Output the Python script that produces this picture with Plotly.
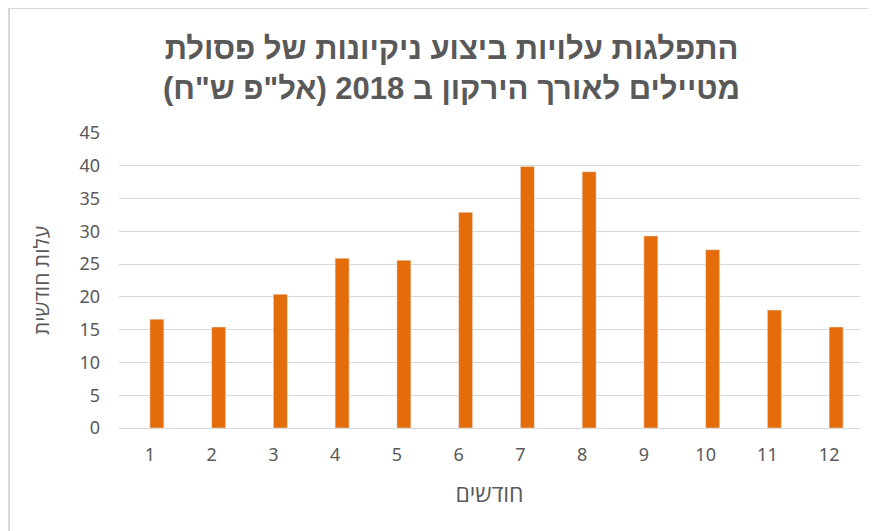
import plotly.graph_objects as go

# נתונים: עלות חודשית (אלפי ש"ח) לפי חודש
months = [1, 2, 3, 4, 5, 6, 7, 8, 9, 10, 11, 12]
month_labels = ["1", "2", "3", "4", "5", "6", "7", "8", "9", "10", "11", "12"]
costs = [16.6, 15.4, 20.4, 25.9, 25.6, 32.9, 39.9, 39.1, 29.3, 27.2, 18.0, 15.4]
y_ticks = [0, 5, 10, 15, 20, 25, 30, 35, 40, 45]

RLM = "\u200f"
title_lines = ["התפלגות עלויות ביצוע ניקיונות של פסולת",
               "מטיילים לאורך הירקון ב 2018 (אל\"פ ש\"ח)"]
title_text = "<br>".join(RLM + t + RLM for t in title_lines)

# גודל הדף: הגוף של ה-HTML מוסיף שוליים של 8px
W, H = 868, 523
L, R, T, B = 111, 16, 125, 103
pw, ph = W - L - R, H - T - B

fig = go.Figure()

fig.add_trace(
    go.Bar(
        x=months,
        y=costs,
        width=0.227,
        offset=0,
        marker=dict(color="#E46C0A"),
        showlegend=False
    )
)

grey = "#595959"

fig.update_layout(
    width=W,
    height=H,
    paper_bgcolor="white",
    plot_bgcolor="white",
    margin=dict(l=L, r=R, t=T, b=B, autoexpand=False),
    title=dict(
        text="<b>" + title_text + "</b>",
        x=0.511, xanchor="center",
        y=1 - 51 / H, yanchor="middle",
        font=dict(family="Liberation Sans, Arial", size=31, color=grey)
    ),
    xaxis=dict(
        tickmode="array",
        tickvals=months,
        ticktext=month_labels,
        range=[0.5, 12.5],
        showgrid=False,
        zeroline=False,
        showline=False,
        ticks="",
        ticklabelstandoff=14,
        tickfont=dict(family="Noto Sans, Open Sans", size=18, color=grey),
        title=dict(text="חודשים", standoff=20,
                   font=dict(family="Noto Sans, Open Sans", size=23, color=grey))
    ),
    yaxis=dict(
        range=[0, 45],
        tickmode="array",
        tickvals=y_ticks,
        showgrid=True,
        gridcolor="#D9D9D9",
        gridwidth=1,
        zeroline=True,
        zerolinecolor="#D9D9D9",
        zerolinewidth=1,
        ticks="",
        ticklabelstandoff=18,
        tickfont=dict(family="Noto Sans, Open Sans", size=18, color=grey),
        title=dict(text="עלות חודשית", standoff=24,
                   font=dict(family="Noto Sans, Open Sans", size=21, color=grey))
    ),
    shapes=[
        # מסגרת התרשים (עליון ושמאל, כמו בתמונה)
        dict(type="line", xref="paper", yref="paper",
             x0=(1 - L) / pw, x1=(W - L) / pw,
             y0=(T + ph) / ph, y1=(T + ph) / ph,
             line=dict(color="#D9D9D9", width=2)),
        dict(type="line", xref="paper", yref="paper",
             x0=(1 - L) / pw, x1=(1 - L) / pw,
             y0=(T + ph) / ph, y1=-B / ph,
             line=dict(color="#D9D9D9", width=2)),
    ]
)

fig.write_html("out.html")
